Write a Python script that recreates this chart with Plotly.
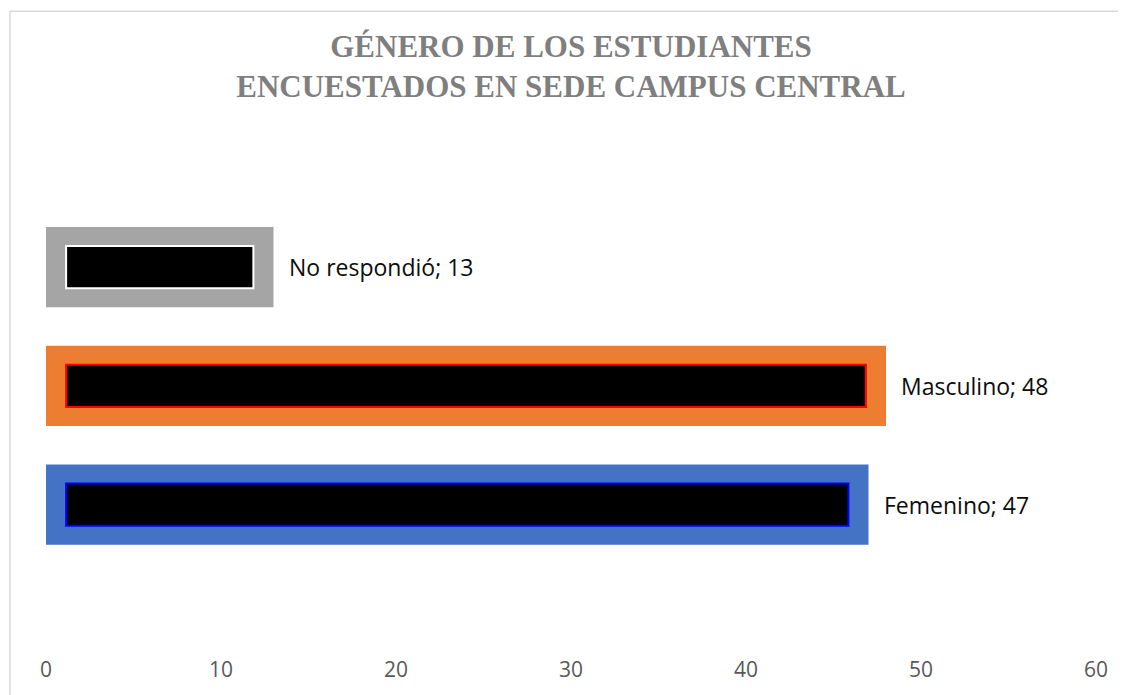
import plotly.graph_objects as go

# ---- data ----
categories = ["Femenino", "Masculino", "No respondió"]
values = [47, 48, 13]
title_lines = ["GÉNERO DE LOS ESTUDIANTES", "ENCUESTADOS EN SEDE CAMPUS CENTRAL"]
tick_vals = [0, 10, 20, 30, 40, 50, 60]

# ---- styles ----
band_colors = ["#4472C4", "#ED7D31", "#A5A5A5"]
edge_colors = ["#0000FF", "#FF0000", "#FFFFFF"]
inset = 1.15  # inner black core inset, in axis units

W, H = 1118, 687          # page body has an 8px margin
L, R, T, B = 38, 30, 132, 35
pw, ph = W - L - R, H - T - B

fig = go.Figure()

# outer coloured band
fig.add_trace(go.Bar(
    orientation="h", y=categories, x=values, width=0.675,
    marker=dict(color=band_colors, line=dict(width=0)),
    hoverinfo="skip", showlegend=False,
))
# inner black core
fig.add_trace(go.Bar(
    orientation="h", y=categories, x=[v - 2 * inset for v in values],
    base=[inset] * len(values), width=0.355,
    marker=dict(color="#000000", line=dict(color=edge_colors, width=2)),
    hoverinfo="skip", showlegend=False,
))

annotations = []
for c, v in zip(categories, values):
    annotations.append(dict(
        x=v, y=c, xref="x", yref="y", text=f"{c}; {v}", showarrow=False,
        xanchor="left", yanchor="middle", xshift=13,
        font=dict(family="Open Sans", size=23, color="#0d0d0d"),
    ))

# light chart-area frame
fx0 = (2 - L) / pw
fy1 = (H - B - 2) / ph
shapes = [dict(type="rect", xref="paper", yref="paper",
               x0=fx0, x1=(W + 20 - L) / pw, y0=-(B + 20) / ph, y1=fy1,
               line=dict(color="#D9D9D9", width=1.5), fillcolor="rgba(0,0,0,0)",
               layer="below")]

fig.update_layout(
    width=W, height=H,
    margin=dict(l=L, r=R, t=T, b=B),
    paper_bgcolor="white", plot_bgcolor="white",
    barmode="overlay",
    title=dict(
        text="<br>".join(title_lines),
        x=0.5, xref="paper", xanchor="center",
        y=1 - 49 / H, yref="container", yanchor="middle",
        font=dict(family="Liberation Serif", size=31, color="#7F7F7F", weight="bold"),
    ),
    xaxis=dict(
        range=[0, 60], tickvals=tick_vals, showgrid=False, zeroline=False,
        showline=False, ticks="",
        tickfont=dict(family="Open Sans", size=21, color="#595959"),
    ),
    yaxis=dict(
        type="category", categoryorder="array", categoryarray=categories,
        range=[-1.267, 3.071], showticklabels=False, showgrid=False,
        zeroline=False, showline=False, ticks="",
    ),
    annotations=annotations,
    shapes=shapes,
)

fig.write_html("out.html")
